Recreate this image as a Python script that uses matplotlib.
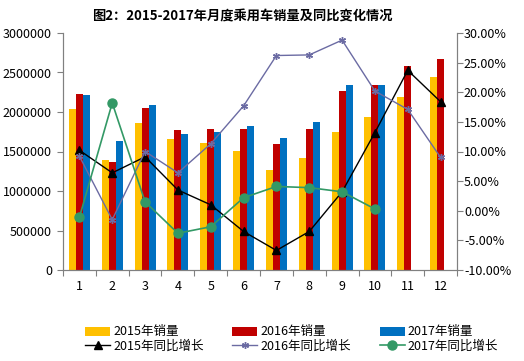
import numpy as np
import matplotlib
matplotlib.use('Agg')
from matplotlib import pyplot as plt
from matplotlib.ticker import FuncFormatter, FixedLocator

plt.rcParams['font.family'] = ['Noto Sans CJK SC', 'DejaVu Sans']
plt.rcParams['axes.unicode_minus'] = False

# 数据
months = ['1', '2', '3', '4', '5', '6', '7', '8', '9', '10', '11', '12']
sales_2015 = [2038000, 1392000, 1861000, 1662000, 1608000, 1506000,
              1266000, 1418000, 1747000, 1937000, 2190000, 2443000]
sales_2016 = [2228000, 1367000, 2050000, 1776000, 1789000, 1789000,
              1595000, 1787000, 2266000, 2342000, 2582000, 2671000]
sales_2017 = [2215000, 1633000, 2089000, 1721000, 1747000, 1823000,
              1671000, 1873000, 2342000, 2342000]
growth_2015 = [10.2, 6.4, 9.1, 3.5, 1.0, -3.5, -6.7, -3.5, 3.2, 13.2, 23.7, 18.4]
growth_2016 = [9.2, -1.5, 10.0, 6.4, 11.3, 17.7, 26.2, 26.3, 28.8, 20.2, 17.1, 9.0]
growth_2017 = [-1.1, 18.2, 1.5, -3.8, -2.7, 2.2, 4.1, 3.9, 3.2, 0.3]

gray = '#808080'
fig = plt.figure(figsize=(5.24, 3.61), dpi=100)
ax = fig.add_axes([63 / 524, 91 / 361, 394 / 524, 237 / 361])

x = np.arange(len(months))
w = 0.213
b1 = ax.bar(x - w, sales_2015, w, color='#FFC000', label='2015年销量')
b2 = ax.bar(x, sales_2016, w, color='#C00000', label='2016年销量')
b3 = ax.bar(np.arange(len(sales_2017)) + w, sales_2017, w, color='#0070C0', label='2017年销量')

ax.set_xlim(-0.5, 11.5)
ax.set_ylim(0, 3000000)
ax.set_yticks(range(0, 3000001, 500000))
ax.yaxis.set_major_formatter(FuncFormatter(lambda v, p: '%d' % v))
ax.xaxis.set_major_locator(FixedLocator(np.arange(-0.5, 12, 1)))
ax.xaxis.set_minor_locator(FixedLocator(x))
ax.set_xticklabels([])
ax.set_xticklabels(months, minor=True)
ax.tick_params(axis='x', which='major', length=4, color=gray, direction='out')
ax.tick_params(axis='x', which='minor', length=0, pad=7.5, labelsize=9)
ax.tick_params(axis='y', length=4, color=gray, direction='out', pad=4, labelsize=9)

ax2 = ax.twinx()
l1, = ax2.plot(x, growth_2015, color='black', lw=1, marker='^', ms=6, label='2015年同比增长')
l2, = ax2.plot(x, growth_2016, color='#6B6BA3', lw=1, marker=(6, 2, 0), ms=5, mew=1,
               label='2016年同比增长')
l3, = ax2.plot(np.arange(len(growth_2017)), growth_2017, color='#339966', lw=1.2, marker='o', ms=6.5,
               label='2017年同比增长')
ax2.set_ylim(-10, 30)
ax2.set_yticks(range(-10, 31, 5))
ax2.yaxis.set_major_formatter(FuncFormatter(lambda v, p: '%.2f%%' % v))
ax2.tick_params(axis='y', length=4, color=gray, direction='out', pad=1, labelsize=9)

for a in (ax, ax2):
    a.spines['top'].set_visible(False)
    for s in ('left', 'right', 'bottom'):
        a.spines[s].set_color(gray)

fig.text(242 / 524, 1 - 16 / 361, '图2：2015-2017年月度乘用车销量及同比变化情况',
         ha='center', va='center', fontsize=9.5, fontweight='bold')

fig.legend([b1, l1, b2, l2, b3, l3],
           ['2015年销量', '2015年同比增长', '2016年销量', '2016年同比增长',
            '2017年销量', '2017年同比增长'],
           ncol=3, loc='upper left', bbox_to_anchor=(85 / 524, 1 - 325.5 / 361),
           frameon=False, fontsize=9, borderpad=0, borderaxespad=0,
           handlelength=2.0, handleheight=0.7, handletextpad=0.25,
           columnspacing=2.3, labelspacing=0.1)

plt.savefig('out.png', dpi=100)
